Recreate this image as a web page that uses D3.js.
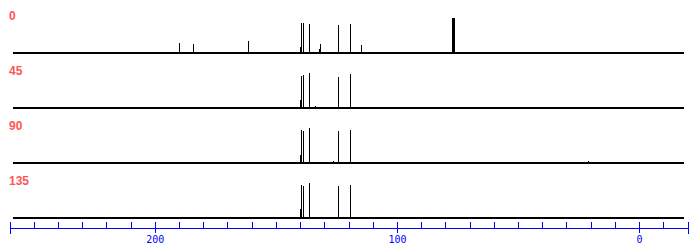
<html><head>
<script src="https://d3js.org/d3.v7.min.js"></script>
<style>
  body { margin: 0; background: #fff; }
  svg text { font-family: "DejaVu Sans Mono", monospace; }
</style>
</head>
<body>
<svg id="chart" width="697" height="246"></svg>
<script>
// panel labels (angle) and their peak lists: ppm, relative height
const panels = ["0", "45", "90", "135"];
const peaks0 = [[190.2, 10], [184.4, 9], [161.4, 12], [140.0, 6], [139.5, 30], [138.7, 30],
                [136.5, 29], [132.1, 4], [131.7, 9], [124.5, 28], [119.2, 29], [115.0, 8],
                [77.4, 35], [77.0, 35], [76.6, 35]];
const peaks45 = [[140.0, 8], [139.5, 32], [138.7, 33], [136.5, 35], [134.0, 2], [124.5, 31], [119.2, 34]];
const peaks90 = [[140.0, 8], [139.5, 33], [138.7, 32], [136.5, 35], [134.0, 1.5], [126.6, 2],
                 [124.5, 32], [119.2, 33], [20.9, 2]];
const peaks135 = [[140.0, 9], [139.5, 33], [138.7, 32], [136.5, 35], [124.5, 32], [119.2, 33]];
const allPeaks = [peaks0, peaks45, peaks90, peaks135];
const spectrumRange = [258.4, -18.4];
const majorTicks = [200, 100, 0];

const svg = d3.select("#chart");
const x = d3.scaleLinear().domain([260, -20]).range([9.5, 687.5]);
const y = d3.scaleLinear().domain([0, 35]).range([0, 35]);
const baseY = d => 53 + d * 55;

panels.forEach((name, i) => {
    const g = svg.append("g");
    const b = baseY(i);
    g.append("line")
        .attr("x1", x(spectrumRange[0])).attr("x2", x(spectrumRange[1]))
        .attr("y1", b).attr("y2", b)
        .attr("stroke", "#000")
        .attr("stroke-width", 2)
        .attr("shape-rendering", "crispEdges");
    g.selectAll(".peak").data(allPeaks[i])
        .join("line")
        .attr("class", "peak")
        .attr("x1", d => Math.round(x(d[0])) + 0.5).attr("x2", d => Math.round(x(d[0])) + 0.5)
        .attr("y1", b).attr("y2", d => b - y(d[1]))
        .attr("stroke", "#000")
        .attr("stroke-width", 1)
        .attr("shape-rendering", "crispEdges");
    g.append("text")
        .attr("x", 9).attr("y", b - 33)
        .attr("fill", "#ff5555")
        .attr("font-size", 12)
        .attr("font-weight", "bold")
        .style("font-family", "Liberation Sans, Arial, sans-serif")
        .text(name);
});

// axis: minor ticks upward every 10 ppm, major ticks crossing with labels
const axisY = 227.5;
const minor = d3.range(250, -20, -10);
svg.append("g")
    .attr("transform", `translate(0,${axisY})`)
    .call(d3.axisTop(x).tickValues(minor).tickSize(6).tickSizeOuter(6).tickFormat(""))
    .call(g => g.selectAll("path, line").attr("stroke", "#0000ff").attr("shape-rendering", "crispEdges"));
svg.append("g")
    .attr("transform", `translate(0,${axisY})`)
    .call(d3.axisBottom(x).tickValues(majorTicks).tickSize(5).tickSizeOuter(6).tickPadding(3))
    .call(g => g.select(".domain").attr("stroke", "#0000ff").attr("shape-rendering", "crispEdges"))
    .call(g => g.selectAll("line").attr("stroke", "#0000ff").attr("shape-rendering", "crispEdges"))
    .call(g => g.selectAll("text").attr("fill", "#0000ff").attr("font-size", 10)
        .style("font-family", "DejaVu Sans Mono, monospace"));
</script>
</body>
</html>
